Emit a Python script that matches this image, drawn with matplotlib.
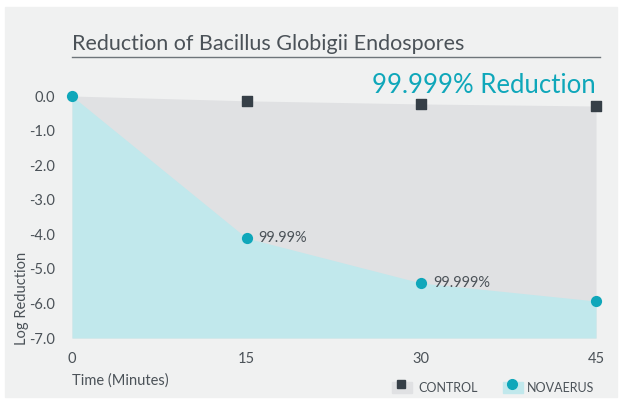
import matplotlib.pyplot as plt
from matplotlib.patches import Rectangle
from matplotlib.lines import Line2D

minutes = [0, 15, 30, 45]
control = [0.0, -0.14, -0.23, -0.29]
novaerus = [0.0, -4.11, -5.41, -5.93]
point_labels = {15: "99.99%", 30: "99.999%"}
yticks = [0, -1, -2, -3, -4, -5, -6, -7]

plt.rcParams['font.family'] = ['Lato', 'DejaVu Sans']

bg = '#f0f1f1'
text_col = '#4b5258'
teal = '#0fa7ba'
teal_fill = '#c1e8ec'
gray_fill = '#e0e1e3'
dark = '#363f47'

fig = plt.figure(figsize=(6.23, 4.0), dpi=100)
fig.patch.set_facecolor('white')
fig.add_artist(Rectangle((5 / 623, 3 / 400), 612 / 623, 390 / 400,
                         transform=fig.transFigure, color=bg, zorder=0))

ax = fig.add_axes([72 / 623, 1 - 338 / 400, 524 / 623, 242 / 400])
ax.set_facecolor('none')
ax.set_xlim(0, 45)
ax.set_ylim(-7, 0)
for s in ax.spines.values():
    s.set_visible(False)

ax.fill_between(minutes, control, -7, color=gray_fill, lw=0, zorder=1)
ax.fill_between(minutes, novaerus, -7, color=teal_fill, lw=0, zorder=2)
ax.scatter(minutes[1:], control[1:], marker='s', s=48, color=dark, zorder=4, clip_on=False)
ax.scatter(minutes, novaerus, marker='o', s=65, color=teal, zorder=5, clip_on=False, lw=0)

for x, y in zip(minutes, novaerus):
    if x in point_labels:
        ax.text(x + 1.0, y, point_labels[x], fontsize=10.5, color=text_col,
                va='center', ha='left', zorder=6)

ax.set_xticks(minutes)
ax.set_xticklabels([str(m) for m in minutes])
ax.set_yticks(yticks)
ax.set_yticklabels(['%.1f' % v for v in yticks])
ax.tick_params(length=0, colors=text_col, labelsize=10.5)
ax.tick_params(axis='y', pad=12)
ax.tick_params(axis='x', pad=10)

ax.text(45, -0.05, "99.999% Reduction", color=teal, fontsize=18.5,
        ha='right', va='bottom', zorder=6)

fig.text(72 / 623, 1 - 44 / 400, "Reduction of Bacillus Globigii Endospores",
         fontsize=15.5, color=text_col, ha='left', va='center')
fig.add_artist(Line2D([72 / 623, 600 / 623], [1 - 57 / 400, 1 - 57 / 400],
                      color='#6e757a', lw=1, transform=fig.transFigure))

fig.text(72 / 623, 1 - 381 / 400, "Time (Minutes)", fontsize=10.5,
         color=text_col, ha='left', va='center')
fig.text(22 / 623, 1 - 345 / 400, "Log Reduction", fontsize=10.5,
         color=text_col, rotation=90, ha='center', va='bottom')

# legend
fig.add_artist(Rectangle((392 / 623, 1 - 393 / 400), 20 / 623, 11 / 400,
                         transform=fig.transFigure, color=gray_fill))
fig.add_artist(Line2D([401 / 623], [1 - 384 / 400], marker='s', markersize=6,
                      color=dark, transform=fig.transFigure))
fig.text(418 / 623, 1 - 388 / 400, "CONTROL", fontsize=9, color=text_col,
         ha='left', va='center')
fig.add_artist(Rectangle((503 / 623, 1 - 393 / 400), 20 / 623, 11 / 400,
                         transform=fig.transFigure, color=teal_fill))
fig.add_artist(Line2D([512 / 623], [1 - 384 / 400], marker='o', markersize=7,
                      color=teal, transform=fig.transFigure))
fig.text(527 / 623, 1 - 388 / 400, "NOVAERUS", fontsize=9, color=text_col,
         ha='left', va='center')

fig.savefig('out.png', dpi=100, facecolor=fig.get_facecolor())
